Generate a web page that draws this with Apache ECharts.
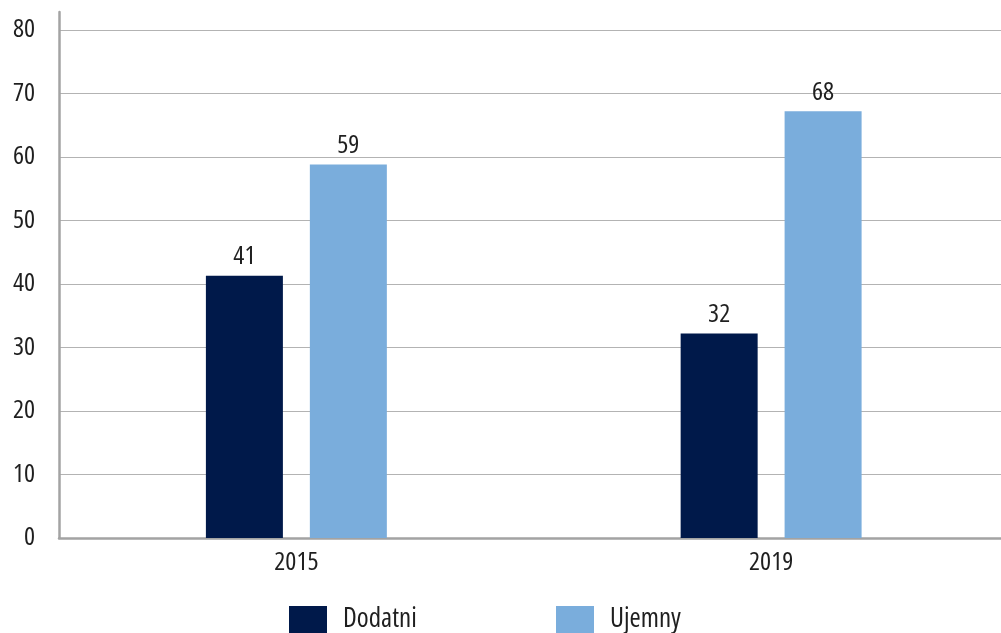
<!DOCTYPE html>
<html>
<head>
<meta charset="utf-8">
<script src="https://cdn.jsdelivr.net/npm/echarts@6/dist/echarts.min.js"></script>
<style>
html,body{margin:0;padding:0;background:#fff;}
#chart{width:1001px;height:633px;}
</style>
</head>
<body>
<div id="chart"></div>
<script>
var categories = ['2015', '2019'];
var dodatniValues = [41.3, 32.2];
var ujemnyValues = [58.8, 67.2];
var dodatniLabels = ['41', '32'];
var ujemnyLabels = ['59', '68'];
var yTicks = [0, 10, 20, 30, 40, 50, 60, 70, 80];

// pick an installed condensed face closest to the reference's narrow type
function pickFont() {
  var c = document.createElement('canvas').getContext('2d');
  function meas(font) {
    c.font = '10px serif';
    c.font = font;
    if (c.font.indexOf('100px') < 0) return -1;
    return c.measureText('2015 Dodatni').width;
  }
  var mono = meas('100px monospace');
  var cands = [
    {s: '', f: '"Liberation Sans Narrow"'},
    {s: '', f: '"Roboto Condensed"'},
    {s: '', f: '"Noto Sans Condensed"'},
    {s: '', f: '"Open Sans Condensed"'},
    {s: 'condensed', f: '"Noto Sans"'},
    {s: 'condensed', f: '"Open Sans"'},
    {s: 'condensed', f: 'Roboto'},
    {s: 'condensed', f: 'Inter'},
    {s: 'semi-condensed', f: '"Noto Sans"'},
    {s: '', f: '"DejaVu Sans Condensed"'}
  ];
  var target = 410;
  var best = null, bestD = 1e9;
  cands.forEach(function (k) {
    var avail = meas('100px ' + k.f + ', monospace');
    if (avail < 0 || Math.abs(avail - mono) < 0.01) return;
    var plain = avail;
    var width = k.s ? meas(k.s + ' 100px ' + k.f + ', monospace') : plain;
    if (width < 0) return;
    if (k.s && Math.abs(width - plain) < 0.5) return;
    var d = Math.abs(width - target);
    if (d < bestD) { bestD = d; best = {stretch: k.s, family: k.f}; }
  });
  return best || {stretch: '', family: '"DejaVu Sans Condensed"'};
}

var picked = pickFont();
var FONT = picked.family + ', "DejaVu Sans Condensed", sans-serif';
var WEIGHT = picked.stretch ? picked.stretch : 'normal';
var TXT = '#1f1f1f';
var AXIS = '#a3a3a3';

function ts(size, extra) {
  var o = {fontFamily: FONT, fontWeight: WEIGHT, fontSize: size, color: TXT};
  for (var k in extra) o[k] = extra[k];
  return o;
}

var chart = echarts.init(document.getElementById('chart'), null, {renderer: 'canvas'});
chart.setOption({
  animation: false,
  backgroundColor: '#ffffff',
  textStyle: {fontFamily: FONT},
  grid: {left: 59, right: -7.5, top: 12, bottom: 95, containLabel: false, outerBoundsMode: 'none'},
  legend: [
    {
      data: ['Dodatni'], left: 289, top: 606, itemWidth: 38, itemHeight: 27, padding: 0,
      icon: 'rect', textStyle: ts(27, {padding: [0, 0, 0, 11]})
    },
    {
      data: ['Ujemny'], left: 556, top: 606, itemWidth: 38, itemHeight: 27, padding: 0,
      icon: 'rect', textStyle: ts(27, {padding: [0, 0, 0, 11]})
    }
  ],
  xAxis: {
    type: 'category',
    data: categories,
    axisLine: {show: true, lineStyle: {color: AXIS, width: 2.5}},
    axisTick: {show: false},
    axisLabel: ts(26, {margin: 12}),
    splitLine: {show: false}
  },
  yAxis: {
    type: 'value',
    min: 0,
    max: 82.83,
    interval: 10,
    axisLine: {show: true, lineStyle: {color: AXIS, width: 2.5}},
    axisTick: {show: false},
    axisLabel: ts(26, {
      margin: 24, showMaxLabel: false,
      formatter: function (v) { return yTicks.indexOf(v) >= 0 ? String(v) : ''; }
    }),
    splitLine: {show: true, showMaxLine: false, lineStyle: {color: '#b3b3b3', width: 1.2}}
  },
  series: [
    {
      name: 'Dodatni', type: 'bar', data: dodatniValues, barWidth: 77, barGap: '35%',
      itemStyle: {color: '#00194a'},
      label: ts(26, {
        show: true, position: 'top', distance: 6,
        formatter: function (p) { return dodatniLabels[p.dataIndex]; }
      })
    },
    {
      name: 'Ujemny', type: 'bar', data: ujemnyValues, barWidth: 77, barGap: '35%',
      itemStyle: {color: '#7aaddc'},
      label: ts(26, {
        show: true, position: 'top', distance: 6,
        formatter: function (p) { return ujemnyLabels[p.dataIndex]; }
      })
    }
  ]
});
</script>
</body>
</html>
